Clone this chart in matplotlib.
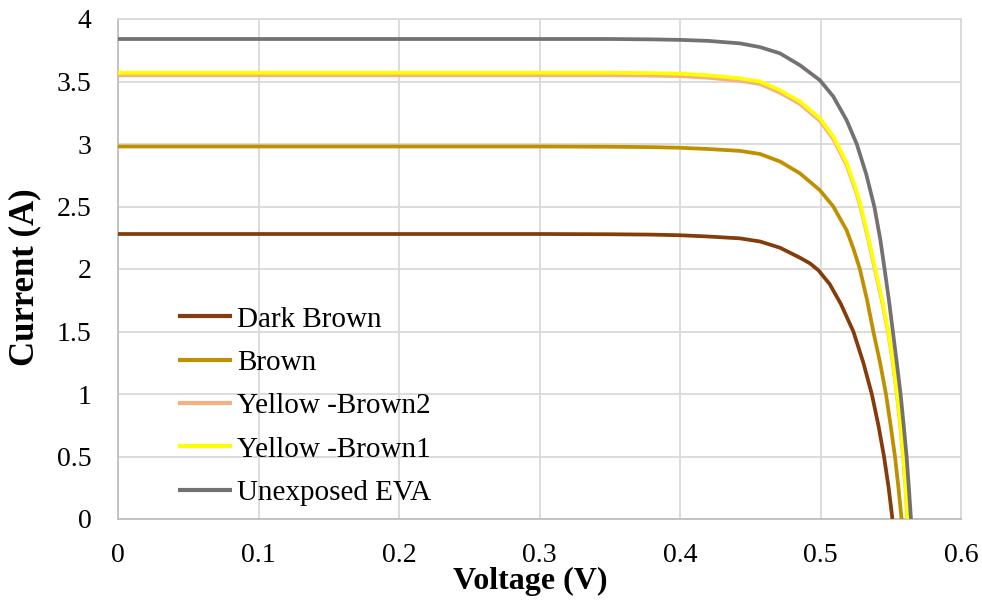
import matplotlib
matplotlib.use("Agg")
import matplotlib.pyplot as plt

# ---- data (Voltage V, Current A) ----
dark_brown_v = [0, 0.1, 0.2, 0.3, 0.35, 0.38, 0.4, 0.42, 0.4427, 0.457, 0.4712, 0.4854, 0.4925,
                0.4985, 0.5065, 0.5145, 0.5234, 0.5305, 0.5365, 0.5412, 0.5452, 0.5485, 0.5512]
dark_brown_i = [2.28, 2.28, 2.28, 2.28, 2.278, 2.275, 2.27, 2.26, 2.245, 2.22, 2.17, 2.09, 2.045,
                1.99, 1.88, 1.72, 1.50, 1.25, 1.00, 0.75, 0.50, 0.25, 0.0]

brown_v = [0, 0.1, 0.2, 0.3, 0.35, 0.38, 0.4, 0.42, 0.4427, 0.457, 0.4712, 0.4854, 0.4996,
           0.5091, 0.5186, 0.5235, 0.528, 0.533, 0.5376, 0.5424, 0.5466, 0.5499, 0.553, 0.5555,
           0.5577]
brown_i = [2.98, 2.98, 2.98, 2.98, 2.978, 2.975, 2.97, 2.96, 2.945, 2.92, 2.86, 2.765, 2.63,
           2.50, 2.31, 2.16, 2.00, 1.76, 1.50, 1.25, 1.00, 0.75, 0.50, 0.25, 0.0]

yb2_v = [0, 0.1, 0.2, 0.3, 0.35, 0.38, 0.4, 0.42, 0.4427, 0.457, 0.4712, 0.4854, 0.4996, 0.5091,
         0.5186, 0.5246, 0.5281, 0.5337, 0.539, 0.544, 0.5483, 0.5517, 0.5545, 0.5569, 0.5589,
         0.5606, 0.5618]
yb2_i = [3.55, 3.55, 3.55, 3.55, 3.55, 3.547, 3.543, 3.53, 3.505, 3.48, 3.41, 3.32, 3.185, 3.04,
         2.83, 2.64, 2.51, 2.25, 1.98, 1.73, 1.48, 1.23, 0.98, 0.73, 0.48, 0.23, 0.0]

yb1_v = [0, 0.1, 0.2, 0.3, 0.35, 0.38, 0.4, 0.42, 0.4427, 0.457, 0.4712, 0.4854, 0.4996, 0.5091,
         0.5186, 0.5246, 0.5281, 0.5337, 0.539, 0.544, 0.5483, 0.5517, 0.5545, 0.5569, 0.5589,
         0.5606, 0.5618]
yb1_i = [3.57, 3.57, 3.57, 3.57, 3.57, 3.567, 3.563, 3.55, 3.525, 3.50, 3.43, 3.34, 3.205, 3.06,
         2.85, 2.66, 2.53, 2.27, 2.00, 1.75, 1.50, 1.25, 1.00, 0.75, 0.50, 0.25, 0.0]

eva_v = [0, 0.1, 0.2, 0.3, 0.35, 0.38, 0.4, 0.42, 0.4427, 0.457, 0.4712, 0.4854, 0.4996, 0.5091,
         0.5186, 0.5258, 0.5325, 0.5383, 0.5425, 0.5456, 0.5487, 0.5515, 0.5543, 0.557, 0.5592,
         0.5613, 0.5629, 0.5644]
eva_i = [3.84, 3.84, 3.84, 3.84, 3.84, 3.837, 3.833, 3.825, 3.805, 3.775, 3.725, 3.63, 3.51, 3.38,
         3.19, 3.00, 2.76, 2.50, 2.24, 2.00, 1.75, 1.50, 1.25, 1.00, 0.75, 0.50, 0.25, 0.0]

labels = ["Dark Brown", "Brown", "Yellow -Brown2", "Yellow -Brown1", "Unexposed EVA"]
colors = ["#843C0C", "#BF9000", "#F4B183", "#FFFF00", "#767171"]

x_ticks = [0, 0.1, 0.2, 0.3, 0.4, 0.5, 0.6]
x_tick_labels = ["0", "0.1", "0.2", "0.3", "0.4", "0.5", "0.6"]
y_ticks = [0, 0.5, 1, 1.5, 2, 2.5, 3, 3.5, 4]
y_tick_labels = ["0", "0.5", "1", "1.5", "2", "2.5", "3", "3.5", "4"]

plt.rcParams['font.family'] = ['Liberation Serif', 'DejaVu Serif']

fig = plt.figure(figsize=(9.82, 6.01), dpi=100)
ax = fig.add_axes([118/982, 1 - 519/601, (961-118)/982, 500/601])

series = [(dark_brown_v, dark_brown_i), (brown_v, brown_i), (yb2_v, yb2_i),
          (yb1_v, yb1_i), (eva_v, eva_i)]
for (v, i), lab, c in zip(series, labels, colors):
    ax.plot(v, i, color=c, lw=2.7, label=lab, solid_capstyle='butt',
            solid_joinstyle='round', zorder=3)

ax.set_xlim(0, 0.6)
ax.set_ylim(0, 4)
ax.set_xticks(x_ticks)
ax.set_xticklabels(x_tick_labels)
ax.set_yticks(y_ticks)
ax.set_yticklabels(y_tick_labels)
ax.tick_params(axis='both', length=0, labelsize=20, colors='#000000')
ax.tick_params(axis='y', pad=19)
ax.tick_params(axis='x', pad=17)
ax.grid(True, color='#D9D9D9', lw=1.3, zorder=0)
ax.set_axisbelow(True)
for s in ['top', 'right']:
    ax.spines[s].set_color('#D9D9D9')
    ax.spines[s].set_linewidth(1.3)
for s in ['left', 'bottom']:
    ax.spines[s].set_color('#BFBFBF')
    ax.spines[s].set_linewidth(1.3)

ax.set_xlabel("Voltage (V)", fontsize=23, fontweight='bold', va='center')
ax.set_ylabel("Current (A)", fontsize=25, fontweight='bold', va='center')
ax.xaxis.set_label_coords((530 - 118) / 843, (519 - 581) / 500)
ax.yaxis.set_label_coords((25 - 118) / 843, (519 - 277) / 500)

leg = ax.legend(loc='center left', bbox_to_anchor=(0.0712, 0.226), frameon=False,
                fontsize=21, handlelength=1.85, handletextpad=0.18, labelspacing=0.58,
                borderpad=0, borderaxespad=0)
for line in leg.get_lines():
    line.set_linewidth(3)

fig.savefig("out.png", dpi=100)
